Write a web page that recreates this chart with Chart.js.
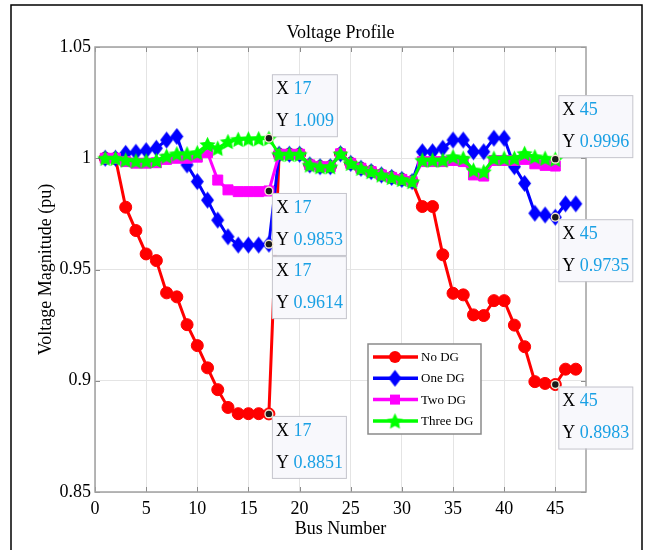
<!DOCTYPE html>
<html><head><meta charset="utf-8">
<script src="https://cdn.jsdelivr.net/npm/chart.js@4.4.1/dist/chart.umd.min.js"></script>
<style>html,body{margin:0;padding:0;background:#fff;} #wrap{width:649px;height:550px;}</style>
</head><body><div id="wrap"><canvas id="c" width="649" height="550"></canvas></div>
<script>
const buses = [1,2,3,4,5,6,7,8,9,10,11,12,13,14,15,16,17,18,19,20,21,22,23,24,25,26,27,28,29,30,31,32,33,34,35,36,37,38,39,40,41,42,43,44,45,46,47];
const noDG = [1.0,0.9999,0.978,0.9675,0.957,0.954,0.9395,0.9377,0.9252,0.9158,0.9058,0.896,0.888,0.8852,0.8852,0.8852,0.8851,
  1.0018,1.0018,1.0018,0.997,0.9962,0.9962,1.002,0.9977,0.9955,0.994,0.9925,0.9914,0.9905,0.9895,
  0.9783,0.9783,0.9566,0.9393,0.9386,0.9296,0.9293,0.936,0.936,0.925,0.9153,0.8996,0.8988,0.8983,0.9052,0.9052];
const oneDG = [1.0,1.0,1.0022,1.0027,1.0034,1.0045,1.0082,1.0098,0.997,0.9895,0.9812,0.9722,0.9647,0.961,0.961,0.961,0.9614,
  1.0018,1.0018,1.0018,0.997,0.9962,0.9962,1.002,0.9977,0.9955,0.994,0.9925,0.9914,0.9905,0.9895,
  1.0029,1.0029,1.0045,1.0082,1.0082,1.0029,1.0029,1.009,1.009,0.9962,0.9887,0.9753,0.9745,0.9735,0.9795,0.9795];
const twoDG = [1.0,1.0,0.9985,0.9978,0.9978,0.998,0.9995,1.0,1.0,1.0005,1.0025,0.9902,0.9858,0.985,0.985,0.985,0.9853,
  1.0018,1.0018,1.0018,0.997,0.9962,0.9962,1.002,0.9977,0.9955,0.994,0.9925,0.9914,0.9905,0.9895,
  0.9985,0.9985,0.9985,0.999,0.9985,0.9925,0.992,0.999,0.999,0.999,0.9995,0.9975,0.9968,0.9965];
const threeDG = [1.0,1.0,0.9992,0.9988,0.9988,0.999,1.001,1.002,1.002,1.0025,1.0062,1.0045,1.0075,1.0085,1.0087,1.0088,1.009,
  1.0018,1.0018,1.0018,0.997,0.9962,0.9962,1.002,0.9977,0.9955,0.994,0.9925,0.9914,0.9905,0.9895,
  0.9992,0.9992,0.9992,1.0007,1.0,0.9947,0.994,1.0,1.0,1.0,1.0022,1.0007,1.0,0.9996];
const seriesNames = ['No DG','One DG','Two DG','Three DG'];
const seriesColors = ['#ff0000','#0000ff','#ff00ff','#00ff00'];
const xTicks = [0,5,10,15,20,25,30,35,40,45];
const yTicks = [0.85,0.9,0.95,1,1.05];
// data tips: [series index, bus number, direction]
const tipSeries = [3,2,1,0,3,1,0];
const tipBus = [17,17,17,17,45,45,45];
const tipDir = ['ne','se','se2','se','ne','se','se'];

const FONT = "'Liberation Serif','Times New Roman',serif";

function makeDiamond(color, w, h){
  const c = document.createElement('canvas'); c.width = w+2; c.height = h+2;
  const g = c.getContext('2d'); g.fillStyle = color; g.beginPath();
  g.moveTo(c.width/2, 1); g.lineTo(c.width-1, c.height/2); g.lineTo(c.width/2, c.height-1); g.lineTo(1, c.height/2); g.closePath(); g.fill();
  return c;
}
function makeStar(color, R, r){
  const s = Math.ceil(2*R+2); const c = document.createElement('canvas'); c.width = s; c.height = s;
  const g = c.getContext('2d'); g.fillStyle = color; g.beginPath();
  const cx = s/2, cy = s/2 + 0.8;
  for (let i=0;i<10;i++){ const a = -Math.PI/2 + i*Math.PI/5; const rr = i%2===0?R:r; const px = cx+rr*Math.cos(a), py = cy+rr*Math.sin(a); if(i===0) g.moveTo(px,py); else g.lineTo(px,py);} 
  g.closePath(); g.fill();
  return c;
}
const diamondImg = makeDiamond('#0000ff', 13, 17);
const starImg = makeStar('#00ff00', 8.5, 4.2);
const styles = ['circle', diamondImg, 'rect', starImg];
const radii = [6, 7, 7.07, 8];
const allVals = [noDG, oneDG, twoDG, threeDG];

function drawMarker(ctx, style, x, y, r, color){
  if (style instanceof HTMLCanvasElement){ ctx.drawImage(style, x - style.width/2, y - style.height/2); return; }
  ctx.fillStyle = color; ctx.beginPath();
  if (style === 'circle') ctx.arc(x, y, r, 0, Math.PI*2);
  else { const s = r*Math.SQRT1_2; ctx.rect(x-s, y-s, 2*s, 2*s); }
  ctx.fill();
}

const deco = {
  id: 'deco',
  beforeDraw(chart){
    const ctx = chart.ctx; ctx.save();
    ctx.fillStyle = '#fff'; ctx.fillRect(0,0,chart.width,chart.height);
    ctx.strokeStyle = '#000'; ctx.lineWidth = 1.5; ctx.strokeRect(11, 5, 631, 600);
    ctx.restore();
  },
  beforeDatasetsDraw(chart){
    const ctx = chart.ctx, ca = chart.chartArea, xs = chart.scales.x, ys = chart.scales.y;
    ctx.save();
    ctx.strokeStyle = '#8c8c8c'; ctx.lineWidth = 1;
    ctx.beginPath();
    xTicks.forEach(v => { const p = Math.round(xs.getPixelForValue(v))+0.5; ctx.moveTo(p, ca.bottom); ctx.lineTo(p, ca.bottom-5); ctx.moveTo(p, ca.top); ctx.lineTo(p, ca.top+5); });
    yTicks.forEach(v => { const p = Math.round(ys.getPixelForValue(v))+0.5; ctx.moveTo(ca.left, p); ctx.lineTo(ca.left+5, p); ctx.moveTo(ca.right, p); ctx.lineTo(ca.right-5, p); });
    ctx.stroke();
    ctx.strokeStyle = '#a0a0a0'; ctx.lineWidth = 1.5;
    ctx.strokeRect(ca.left, ca.top, ca.width, ca.height);
    ctx.restore();
  },
  afterDraw(chart){
    const ctx = chart.ctx, ca = chart.chartArea, xs = chart.scales.x, ys = chart.scales.y;
    ctx.save();
    // legend
    const lx = ca.left + 273, ly = ca.top + 297, lw = 113, lh = 90;
    ctx.fillStyle = '#fff'; ctx.fillRect(lx, ly, lw, lh);
    ctx.strokeStyle = '#8a8a8a'; ctx.lineWidth = 1.5; ctx.strokeRect(lx, ly, lw, lh);
    ctx.font = '13px ' + FONT; ctx.textBaseline = 'middle'; ctx.textAlign = 'left';
    seriesNames.forEach((n, i) => {
      const y = ly + 13 + i*21.3;
      ctx.strokeStyle = seriesColors[i]; ctx.lineWidth = 3.5;
      ctx.beginPath(); ctx.moveTo(lx+5, y); ctx.lineTo(lx+50, y); ctx.stroke();
      drawMarker(ctx, styles[i], lx+27, y, radii[i], seriesColors[i]);
      ctx.fillStyle = '#000'; ctx.fillText(n, lx+53, y+0.5);
    });
    // data tips
    ctx.font = '18px ' + FONT;
    tipSeries.forEach((si, k) => {
      const bus = tipBus[k]; const val = allVals[si][bus-1];
      const px = xs.getPixelForValue(bus), py = ys.getPixelForValue(val);
      const xs1 = 'X ', ys1 = 'Y ';
      const v1 = String(bus), v2 = val.toPrecision(4);
      const w = Math.max(ctx.measureText(xs1+v1).width, ctx.measureText(ys1+v2).width) + 7;
      const h = 62;
      const left = px + 3;
      let top;
      if (tipDir[k] === 'ne') top = py - 2 - h;
      else if (tipDir[k] === 'se2') top = py + 12;
      else top = py + 2;
      ctx.fillStyle = '#f8f8fc'; ctx.fillRect(left, top, w, h);
      ctx.strokeStyle = '#c4c4cc'; ctx.lineWidth = 1; ctx.strokeRect(left+0.5, top+0.5, w, h);
      ctx.textBaseline = 'middle';
      ctx.fillStyle = '#000'; ctx.fillText(xs1, left+4, top+15);
      ctx.fillText(ys1, left+4, top+47);
      ctx.fillStyle = '#1aa0e4';
      ctx.fillText(v1, left+4+ctx.measureText(xs1).width, top+15);
      ctx.fillText(v2, left+4+ctx.measureText(ys1).width, top+47);
      // dot
      ctx.fillStyle = '#f3e6cf'; ctx.beginPath(); ctx.arc(px, py, 4.6, 0, Math.PI*2); ctx.fill();
      ctx.fillStyle = '#1a1a1a'; ctx.beginPath(); ctx.arc(px, py, 3.2, 0, Math.PI*2); ctx.fill();
    });
    ctx.restore();
  }
};

function mk(vals, i, order){
  return {
    label: seriesNames[i],
    data: vals.map((v, j) => ({x: buses[j], y: v})),
    borderColor: seriesColors[i], backgroundColor: seriesColors[i],
    borderWidth: 3, pointStyle: styles[i], pointRadius: radii[i], pointHoverRadius: radii[i],
    pointBackgroundColor: seriesColors[i], pointBorderColor: seriesColors[i], pointBorderWidth: 1,
    tension: 0, fill: false, order: order
  };
}

new Chart(document.getElementById('c'), {
  type: 'line',
  data: { datasets: [mk(noDG,0,3), mk(oneDG,1,2), mk(twoDG,2,1), mk(threeDG,3,0)] },
  options: {
    responsive: false, animation: false, devicePixelRatio: 1,
    layout: { padding: { left: 0, right: 63, top: 0, bottom: 0 } },
    plugins: {
      legend: { display: false }, tooltip: { enabled: false },
      title: { display: true, text: 'Voltage Profile', fullSize: false, color: '#000',
        font: { family: FONT, size: 18, weight: 'normal' }, padding: { top: 22, bottom: 3.4 } }
    },
    scales: {
      x: {
        type: 'linear', min: 0, max: 48,
        afterBuildTicks: s => { s.ticks = xTicks.map(v => ({value: v})); },
        afterFit: s => { s.height = 58; },
        grid: { color: '#e4e4e4', lineWidth: 1, drawTicks: false },
        border: { display: false },
        ticks: { color: '#000', padding: 6, font: { family: FONT, size: 18 }, maxRotation: 0, callback: v => String(v) },
        title: { display: true, text: 'Bus Number', color: '#000', font: { family: FONT, size: 18 }, padding: { top: 0, bottom: 10 } }
      },
      y: {
        type: 'linear', min: 0.85, max: 1.05,
        afterBuildTicks: s => { s.ticks = yTicks.map(v => ({value: v})); },
        afterFit: s => { s.width = 95; },
        grid: { color: '#e4e4e4', lineWidth: 1, drawTicks: false },
        border: { display: false },
        ticks: { color: '#000', padding: 4, font: { family: FONT, size: 18 }, callback: v => String(v) },
        title: { display: true, text: 'Voltage Magnitude (pu)', color: '#000', font: { family: FONT, size: 18 }, padding: { top: 35, bottom: 0 } }
      }
    }
  },
  plugins: [deco]
});
</script>
</body></html>
